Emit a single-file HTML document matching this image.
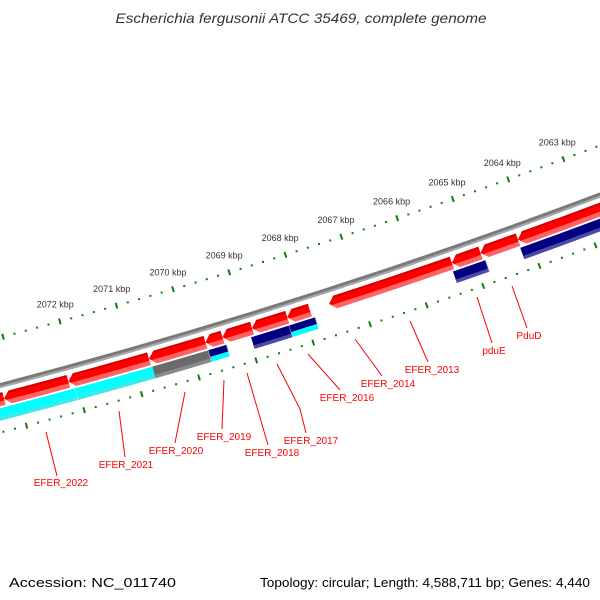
<!DOCTYPE html>
<html><head><meta charset="utf-8"><style>
html,body{margin:0;padding:0;background:#fff;}
svg{display:block;}
text{font-family:"Liberation Sans",sans-serif;}
</style></head><body>
<svg id="map" width="600" height="600" viewBox="0 0 600 600" xmlns="http://www.w3.org/2000/svg">
<rect width="600" height="600" fill="#fff"/>
<g id="ticks"></g>
<g id="backbone"></g>
<g id="feats"></g>
<g id="labels"></g>
<text x="301" y="23" text-anchor="middle" font-size="14" font-style="italic" fill="#333" textLength="371" lengthAdjust="spacingAndGlyphs">Escherichia fergusonii ATCC 35469, complete genome</text>
<text x="9" y="587" font-size="13" fill="#000" textLength="167" lengthAdjust="spacingAndGlyphs">Accession: NC_011740</text>
<text x="260" y="587" font-size="13" fill="#000" textLength="330" lengthAdjust="spacingAndGlyphs">Topology: circular; Length: 4,588,711 bp; Genes: 4,440</text>
</svg>
<script>
// ---- data (kbp) ----
const tickLabels = [2063,2064,2065,2066,2067,2068,2069,2070,2071,2072];
const redStarts = [2073.25,2072.13,2070.72,2069.73,2069.43,2068.91,2068.29,2067.89,2065.37,2064.86,2064.19,2062.3];
const redEnds   = [2074.20,2073.25,2072.13,2070.72,2069.73,2069.43,2068.91,2068.29,2067.55,2065.37,2064.86,2064.19];
const lowStarts = [2072.05,2070.64,2069.72,2069.40,2068.30,2067.84,2064.82,2062.3];
const lowEnds   = [2073.60,2072.05,2070.70,2069.72,2068.97,2068.30,2065.40,2064.20];
const lowTypes  = ["cyan","cyan","gray","navycyan","navy","navycyan","navy","navy"];
const labelNames = ["EFER_2022","EFER_2021","EFER_2020","EFER_2019","EFER_2018","EFER_2017","EFER_2016","EFER_2014","EFER_2013","pduE","PduD"];

// ---- geometry ----
const NS="http://www.w3.org/2000/svg";
const cx=-1513.1, cy=-5420.5;
const a0=Math.atan2(158-cy,563-cx), a1=Math.atan2(322-cy,60-cx);
function ang(k){return a0+(k-2063)*(a1-a0)/9;}
function pt(k,r){const a=ang(k);return [cx+r*Math.cos(a), cy+r*Math.sin(a)];}
function f(p){return p[0].toFixed(2)+","+p[1].toFixed(2);}
function sector(s,e,ri,ro){
  return "M"+f(pt(s,ri))+"A"+ri+","+ri+" 0 0 1 "+f(pt(e,ri))+"L"+f(pt(e,ro))+"A"+ro+","+ro+" 0 0 0 "+f(pt(s,ro))+"Z";
}
function arrow(s,e,ri,ro,h){
  const b=Math.max(s,e-h), rm=(ri+ro)/2;
  return "M"+f(pt(s,ri))+"A"+ri+","+ri+" 0 0 1 "+f(pt(b,ri))+"L"+f(pt(e,rm))+"L"+f(pt(b,ro))+"A"+ro+","+ro+" 0 0 0 "+f(pt(s,ro))+"Z";
}
function mk(tag,attrs,parent){const el=document.createElementNS(NS,tag);for(const k in attrs)el.setAttribute(k,attrs[k]);parent.appendChild(el);return el;}

// ---- ruler ticks ----
const tg=document.getElementById("ticks");
[5953.5,6045.5].forEach(function(R,ri){
  for(let i=0;i<=80;i++){
    const k=2060+i*0.2;
    const major=Math.abs(k-Math.round(k))<1e-6;
    let el;
    if(major){
      el=mk("line",{x1:pt(k,R-3)[0],y1:pt(k,R-3)[1],x2:pt(k,R+3)[0],y2:pt(k,R+3)[1],stroke:"#0a800a","stroke-width":2},tg);
      
    } else {
      const p=pt(k,R);
      el=mk("rect",{x:p[0]-1,y:p[1]-1,width:2,height:2,fill:"#0a800a"},tg);
      
    }
    
  }
});
tickLabels.forEach(function(k){
  const p=pt(k,5936);
  const t=mk("text",{x:p[0],y:p[1]+3,"text-anchor":"middle","font-size":9,fill:"#333"},tg);
  t.textContent=k+" kbp";
  
  
});

// ---- backbone ----
const bg=document.getElementById("backbone");
let bb=mk("path",{d:sector(2060,2076,5997.5,6002.5),fill:"#7a7a7a"},bg);


let bb2=mk("path",{d:sector(2060,2076,6000.5,6002.5),fill:"#a8a8a8"},bg);



// ---- features ----
const fg=document.getElementById("feats");
const defs=mk("defs",{},fg);
redStarts.forEach(function(s,i){
  const e=redEnds[i], ri=6007, ro=6020;
  const id="clip"+i;
  const cp=mk("clipPath",{id:id},defs);
  mk("path",{d:arrow(s,e,ri,ro,0.11)},cp);
  const g=mk("g",{"clip-path":"url(#"+id+")"},fg);
  
  
  mk("path",{d:sector(s-0.2,e+0.2,ri-2,ro+2),fill:"#ff0000"},g);
  mk("path",{d:sector(s-0.2,e+0.2,ri-2,ri+2),fill:"#d40000"},g);
  mk("path",{d:sector(s-0.2,e+0.2,ro-4.5,ro+2),fill:"#ff6464"},g);
});
const colors={cyan:["#00ffff","#40e8e8"],gray:["#6a6a6a","#8a8a8a"],navy:["#000080","#4a4aa8"]};
lowStarts.forEach(function(s,i){
  const e=lowEnds[i], ri=6022, ro=6034, t=lowTypes[i];
  const g=mk("g",{},fg);
  
  
  if(t==="navycyan"){
    mk("path",{d:sector(s,e,ri,ri+7),fill:"#000080"},g);
    mk("path",{d:sector(s,e,ri+7,ro),fill:"#00ffff"},g);
  } else {
    const c=colors[t];
    mk("path",{d:sector(s,e,ri,ro),fill:c[0]},g);
    mk("path",{d:sector(s,e,ro-3.5,ro),fill:c[1]},g);
  }
  mk("path",{d:sector(s,s+0.01,ri,ro),fill:"#fff",opacity:0.6},g);
});

// ---- labels ----
const lg=document.getElementById("labels");
const lines=[[[46,432],[57,476]],[[119,411],[125,457]],[[185,392],[175,443]],[[224,380],[222,429]],[[247,373],[268,445]],[[277,364],[300,409],[306,433]],[[308,354],[340,390]],[[355,339],[382,376]],[[410,321],[428,362]],[[477,297],[492,343]],[[512,286],[527,328]]];
const tpos=[[61,486],[126,468],[176,454],[224,440],[272,456],[311,444],[347,401],[388,387],[432,373],[494,354],[529,339]];
labelNames.forEach(function(n,i){
  const pl=mk("polyline",{points:lines[i].map(function(p){return p.join(",");}).join(" "),fill:"none",stroke:"#ff0000","stroke-width":1},lg);
  
  
  const t=mk("text",{x:tpos[i][0],y:tpos[i][1],"text-anchor":"middle","font-size":10,fill:"#ff0000"},lg);
  t.textContent=n;
  
  
});
</script>
</body></html>
